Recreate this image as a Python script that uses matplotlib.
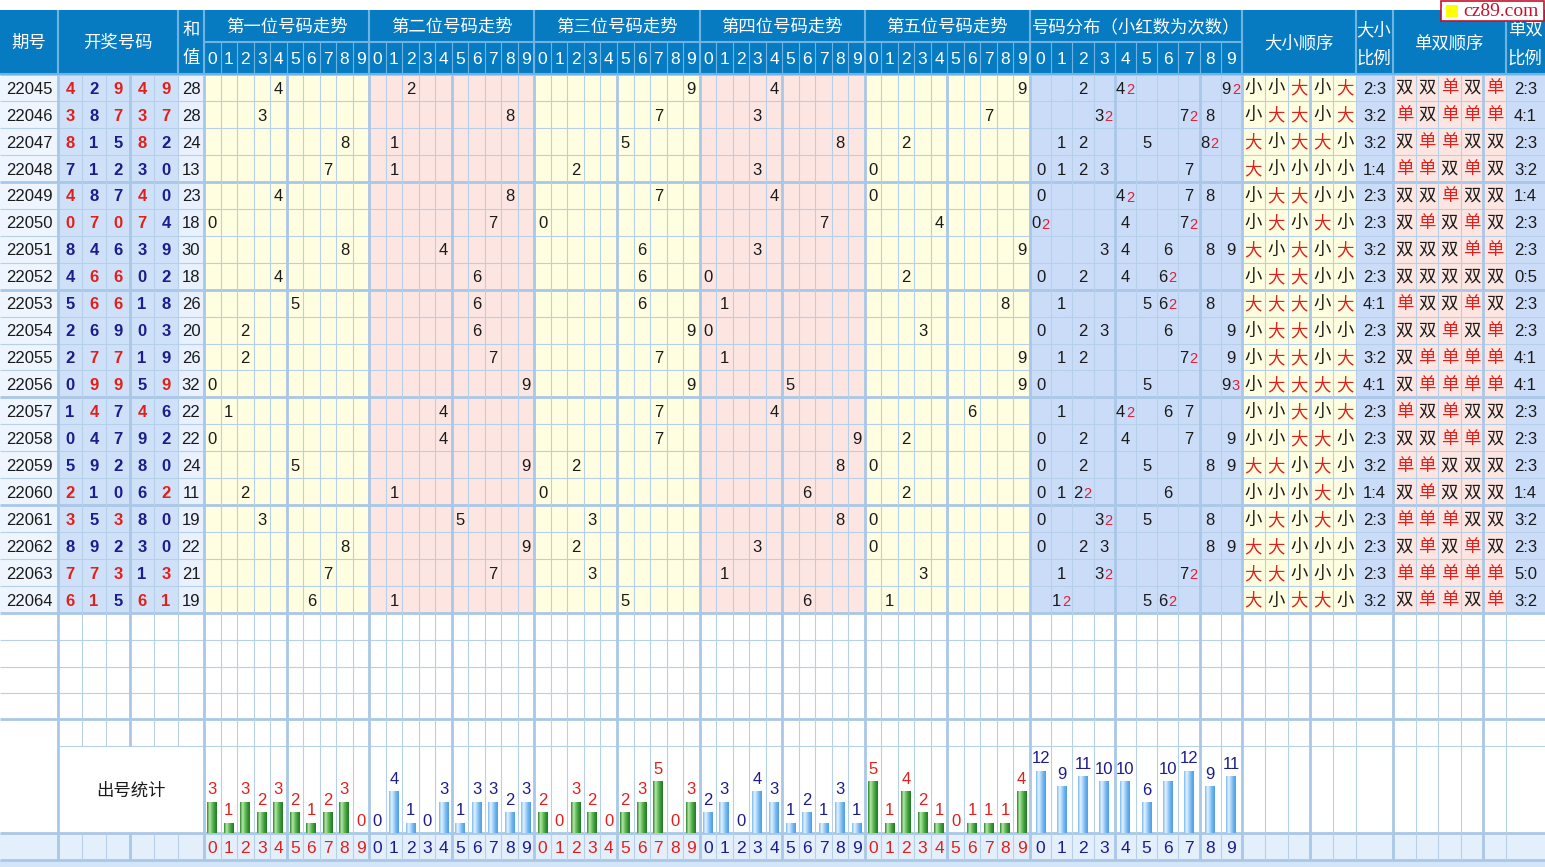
import numpy as np
import matplotlib
matplotlib.use('Agg')
import matplotlib.pyplot as plt
from matplotlib.patches import Rectangle
from matplotlib.colors import LinearSegmentedColormap
from collections import Counter

plt.rcParams['font.family'] = ['Liberation Sans', 'Noto Sans CJK SC', 'DejaVu Sans']

# ---- data ----
issues = ['22045', '22046', '22047', '22048', '22049', '22050', '22051', '22052', '22053', '22054',
          '22055', '22056', '22057', '22058', '22059', '22060', '22061', '22062', '22063', '22064']
draws = [[4, 2, 9, 4, 9], [3, 8, 7, 3, 7], [8, 1, 5, 8, 2], [7, 1, 2, 3, 0], [4, 8, 7, 4, 0],
         [0, 7, 0, 7, 4], [8, 4, 6, 3, 9], [4, 6, 6, 0, 2], [5, 6, 6, 1, 8], [2, 6, 9, 0, 3],
         [2, 7, 7, 1, 9], [0, 9, 9, 5, 9], [1, 4, 7, 4, 6], [0, 4, 7, 9, 2], [5, 9, 2, 8, 0],
         [2, 1, 0, 6, 2], [3, 5, 3, 8, 0], [8, 9, 2, 3, 0], [7, 7, 3, 1, 3], [6, 1, 5, 6, 1]]
sums = [28, 28, 24, 13, 23, 18, 30, 18, 26, 20, 26, 32, 22, 22, 24, 11, 19, 22, 21, 19]
sec_titles = ['第一位号码走势', '第二位号码走势', '第三位号码走势', '第四位号码走势', '第五位号码走势']
pos_counts = [[3, 1, 3, 2, 3, 2, 1, 2, 3, 0],
              [0, 4, 1, 0, 3, 1, 3, 3, 2, 3],
              [2, 0, 3, 2, 0, 2, 3, 5, 0, 3],
              [2, 3, 0, 4, 3, 1, 2, 1, 3, 1],
              [5, 1, 4, 2, 1, 0, 1, 1, 1, 4]]
dist_counts = [12, 9, 11, 10, 10, 6, 10, 12, 9, 11]
digits = [str(d) for d in range(10)]

# ---- layout in pixels ----
W, H = 1545, 867
draw_x = [58 + 24 * i for i in range(6)]
sec_x0, sec_w = 204, 165.2
sec_cols = [sec_x0 + i * sec_w / 10 for i in range(51)]
dist_x = list(np.linspace(1030, 1242, 11))
dx_x = list(np.linspace(1242, 1356, 6))
ds_x = list(np.linspace(1393, 1506, 6))
hdr_top, hdr_mid, hdr_bot = 10, 42, 74
row_h = 26.95
row_y = [hdr_bot + i * row_h for i in range(21)]
extra_y = [640, 666.5, 693, 719, 746, 833, 860]
dy = 1.7     # text nudge: va='center' sits a bit high for digits
cy = 1.0     # same for CJK glyphs

header_blue = '#077bc2'
hline_c = '#6fb3e3'
grid_c = '#b7d0ea'
thick_c = '#a9c7e6'
yellow, pink, lblue = '#fffee0', '#fde6e2', '#cbdcf8'
red, navy, black = '#e0201c', '#1c1c8c', '#1a1a1a'

fig = plt.figure(figsize=(W / 100, H / 100), dpi=100)
ax = fig.add_axes([0, 0, 1, 1])
ax.set_xlim(0, W)
ax.set_ylim(H, 0)
ax.axis('off')


def cell(x0, x1, y0, y1, fc, z=0):
    ax.add_patch(Rectangle((x0, y0), x1 - x0, y1 - y0, fc=fc, ec='none', zorder=z))


# backgrounds of the data block
top, bot = row_y[0], row_y[-1]
cell(0, 58, top, bot, '#eef5fe')
cell(58, 178, top, bot, '#cfe1f8')
cell(178, 204, top, bot, '#e8f1fd')
for s in range(5):
    cell(sec_cols[s * 10], sec_cols[s * 10 + 10], top, bot, yellow if s % 2 == 0 else pink)
cell(1030, 1242, top, bot, lblue)
cell(1242, 1356, top, bot, yellow)
cell(1356, 1393, top, bot, lblue)
cell(1393, 1506, top, bot, pink)
cell(1506, W, top, bot, lblue)
cell(0, W, 833, 860, '#e4effc')
cell(0, W, 860, H, '#d3e5f8')

# grid lines
hy = row_y + extra_y
thick_rows = [row_y[i] for i in (0, 4, 8, 12, 16, 20)] + [719, 833, 860]
for y in hy:
    x0 = 58 if y == 746 else 0
    thick = any(abs(y - t) < 0.5 for t in thick_rows)
    ax.hlines(y, x0, W, color=thick_c if thick else grid_c, lw=2 if thick else 0.8, zorder=1)

vx = [58] + draw_x[1:] + [204] + sec_cols[1:] + dist_x[1:] + dx_x[1:] + [1393] + ds_x[1:]
thick_cols = [58, 130, 204, 1030, 1242, 1393, dist_x[4], dist_x[8], dx_x[3], ds_x[4]]
thick_cols += [sec_cols[i] for i in range(0, 51, 5)]
for x in vx:
    thick = any(abs(x - t) < 0.5 for t in thick_cols)
    c, lw = (thick_c, 2) if thick else (grid_c, 0.8)
    if 58 < x < 204:
        ax.vlines(x, top, 746, color=c, lw=lw, zorder=1)
        ax.vlines(x, 833, 860, color=c, lw=lw, zorder=1)
    else:
        ax.vlines(x, top, 860, color=c, lw=lw, zorder=1)

# header
cell(0, W, hdr_top, hdr_bot, header_blue, z=2)
ax.hlines(hdr_mid, 204, 1242, color=hline_c, lw=1.5, zorder=3)
ax.hlines(hdr_bot, 0, W, color=hline_c, lw=1.5, zorder=3)
for x in [58, 178, 204] + [sec_cols[i] for i in range(10, 51, 10)] + [1242, 1356, 1393, 1506]:
    ax.vlines(x, hdr_top, hdr_bot, color=hline_c, lw=1.5, zorder=3)
for x in sec_cols + dist_x:
    ax.vlines(x, hdr_mid, hdr_bot, color=hline_c, lw=0.8, zorder=3)

hkw = dict(color='white', ha='center', va='center', fontsize=12.5, zorder=4)
ax.text(29, 42 + cy, '期号', **hkw)
ax.text(118, 42 + cy, '开奖号码', **hkw)
ax.text(191, 29 + cy, '和', **hkw)
ax.text(191, 57 + cy, '值', **hkw)
for s, t in enumerate(sec_titles):
    ax.text(sec_cols[s * 10] + sec_w / 2, 26 + cy, t, **hkw)
    for d in range(10):
        ax.text((sec_cols[s * 10 + d] + sec_cols[s * 10 + d + 1]) / 2, 58 + dy, digits[d],
                color='white', ha='center', va='center', fontsize=12.5, zorder=4)
ax.text(1136, 26 + cy, '号码分布（小红数为次数）', **hkw)
for d in range(10):
    ax.text((dist_x[d] + dist_x[d + 1]) / 2, 58 + dy, digits[d],
            color='white', ha='center', va='center', fontsize=12.5, zorder=4)
ax.text(1299, 42 + cy, '大小顺序', **hkw)
ax.text(1374, 29 + cy, '大小', **hkw)
ax.text(1374, 57 + cy, '比例', **hkw)
ax.text(1449, 42 + cy, '单双顺序', **hkw)
ax.text(1525, 29 + cy, '单双', **hkw)
ax.text(1525, 57 + cy, '比例', **hkw)

# watermark
ax.add_patch(Rectangle((1441, 0.5), 103, 20.5, fc='white', ec='#c8102e', lw=1.2, zorder=5))
ax.add_patch(Rectangle((1446, 5), 11.5, 11.5, fc='#ffff00', ec='none', zorder=6))
ax.text(1501, 16.5, 'cz89.com', family='Liberation Serif', fontsize=14, color='#c8102e',
        ha='center', va='baseline', zorder=6)

# data rows
tkw = dict(ha='center', va='center', fontsize=12, color=black, zorder=4)
for r in range(20):
    yc = row_y[r] + row_h / 2 + dy
    nums = draws[r]
    cnt = Counter(nums)
    ax.text(29, yc, issues[r], **tkw)
    for i, n in enumerate(nums):
        ax.text(draw_x[i] + 12, yc, str(n), ha='center', va='center', fontsize=12,
                fontweight='bold', color=red if cnt[n] > 1 else navy, zorder=4)
    ax.text(191, yc, str(sums[r]), **tkw)
    for s, n in enumerate(nums):
        xc = (sec_cols[s * 10 + n] + sec_cols[s * 10 + n + 1]) / 2
        ax.text(xc, yc, str(n), **tkw)
    for n, k in cnt.items():
        xc = (dist_x[n] + dist_x[n + 1]) / 2
        if k == 1:
            ax.text(xc, yc, str(n), **tkw)
        else:
            ax.text(xc - 5, yc, str(n), **tkw)
            ax.text(xc + 4.5, yc + 0.6, str(k), ha='center', va='center', fontsize=10.5,
                    color='#e0203a', zorder=4)
    big = sum(1 for n in nums if n >= 5)
    odd = sum(1 for n in nums if n % 2 == 1)
    for i, n in enumerate(nums):
        ax.text((dx_x[i] + dx_x[i + 1]) / 2, yc - dy + cy, '大' if n >= 5 else '小', ha='center',
                va='center', fontsize=12.5, color=red if n >= 5 else black, zorder=4)
        ax.text((ds_x[i] + ds_x[i + 1]) / 2, yc - dy + cy, '单' if n % 2 else '双', ha='center',
                va='center', fontsize=12.5, color=red if n % 2 else black, zorder=4)
    ax.text(1374.5, yc, f'{big}:{5 - big}', **tkw)
    ax.text(1525.5, yc, f'{odd}:{5 - odd}', **tkw)

# stats label cell
ax.text(131, 790 + cy, '出号统计', ha='center', va='center', fontsize=12.5, color=black, zorder=4)

# bottom digit row
for s in range(5):
    c = red if s % 2 == 0 else navy
    for d in range(10):
        ax.text((sec_cols[s * 10 + d] + sec_cols[s * 10 + d + 1]) / 2, 846.5 + dy, digits[d],
                ha='center', va='center', fontsize=12.5, color=c, zorder=4)
for d in range(10):
    ax.text((dist_x[d] + dist_x[d + 1]) / 2, 846.5 + dy, digits[d],
            ha='center', va='center', fontsize=12.5, color=navy, zorder=4)

# bar charts of counts
green_map = LinearSegmentedColormap.from_list('g', ['#2f8a2f', '#b8e8aa', '#6cc060', '#3a9a3a', '#257a25'])
blue_map = LinearSegmentedColormap.from_list('b', ['#7dbcf0', '#e4f2ff', '#a8d4f8', '#6cb2ee', '#4f9fe6'])
grad = np.linspace(0, 1, 32)[None, :]


def grad_bars(bx, xs, vals, width, cmaps, label_colors):
    for x, v, cm, lc in zip(xs, vals, cmaps, label_colors):
        if v > 0:
            b = bx.bar(x, v, width, color='none', edgecolor='none')[0]
            im = bx.imshow(grad, cmap=cm, extent=[x - width / 2, x + width / 2, 0, v],
                           aspect='auto', zorder=2)
            im.set_clip_path(b)
        bx.annotate(str(v), (x, v), xytext=(0, 5.2), textcoords='offset points', ha='center',
                    va='baseline', fontsize=12, color=lc)


sax = fig.add_axes([204 / W, 1 - 833 / H, 826 / W, 87 / H])
sax.patch.set_alpha(0)
sax.axis('off')
xs, vals, cms, lcs = [], [], [], []
for s in range(5):
    for d in range(10):
        xs.append(s * 10 + d)
        vals.append(pos_counts[s][d])
        cms.append(green_map if s % 2 == 0 else blue_map)
        lcs.append(red if s % 2 == 0 else navy)
grad_bars(sax, xs, vals, 0.6, cms, lcs)
sax.set_xlim(-0.5, 49.5)
sax.set_ylim(0, 87 / 10.45)

dax = fig.add_axes([1030 / W, 1 - 833 / H, 212 / W, 87 / H])
dax.patch.set_alpha(0)
dax.axis('off')
grad_bars(dax, list(range(10)), dist_counts, 0.47, [blue_map] * 10, [navy] * 10)
dax.set_xlim(-0.5, 9.5)
dax.set_ylim(0, 87 / 5.2)

fig.savefig('out.png', dpi=100)
